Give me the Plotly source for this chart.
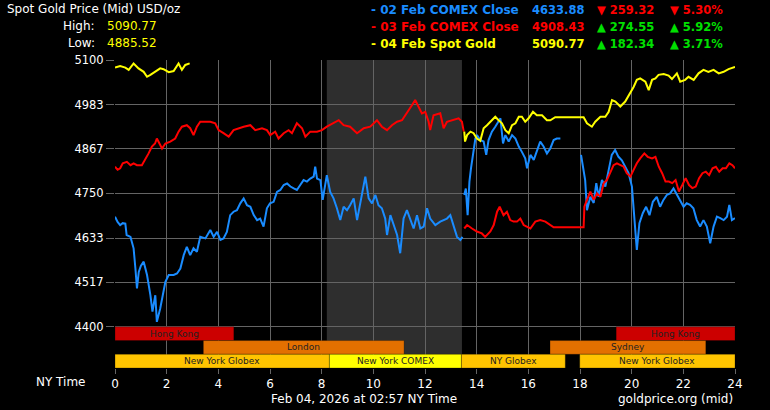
import plotly.graph_objects as go

# ---------------- data ----------------
blue_hours = [0.0,0.1,0.2,0.3,0.4,0.45,0.6,0.72,0.79,0.85,0.92,1.0,1.11,1.24,1.37,1.45,1.56,1.62,1.75,1.88,1.95,2.08,2.27,2.4,2.53,2.66,2.78,2.91,3.04,3.17,3.3,3.5,3.69,3.82,3.95,4.08,4.2,4.33,4.46,4.59,4.72,4.85,4.98,5.11,5.24,5.37,5.5,5.62,5.75,5.88,6.0,6.14,6.27,6.4,6.53,6.66,6.79,6.92,7.04,7.17,7.3,7.43,7.56,7.69,7.75,7.82,7.95,8.04,8.14,8.2,8.33,8.46,8.59,8.72,8.85,8.98,9.1,9.24,9.37,9.5,9.63,9.69,9.82,9.95,10.08,10.2,10.33,10.46,10.53,10.66,10.79,10.92,11.04,11.17,11.3,11.43,11.56,11.69,11.82,11.95,12.08,12.2,12.4,12.59,12.85,12.98,13.11,13.24,13.37,13.45,13.5,
              13.52,13.58,13.65,13.72,13.78,13.88,13.95,14.01,14.14,14.27,14.37,14.46,14.59,14.72,14.85,14.92,15.02,15.11,15.24,15.37,15.5,15.63,15.75,15.88,15.95,16.08,16.21,16.34,16.46,16.59,16.72,16.85,16.98,17.1,17.24,17.6,
              18.04,18.12,18.2,18.27,18.4,18.53,18.63,18.72,18.85,18.98,19.1,19.23,19.36,19.49,19.62,19.75,19.88,20.01,20.1,20.2,20.3,20.43,20.56,20.69,20.82,20.97,21.1,21.23,21.36,21.49,21.62,21.75,21.88,22.01,22.13,22.26,22.39,22.52,22.65,22.78,22.91,23.04,23.17,23.3,23.43,23.56,23.69,23.78,23.88,24.0]
blue_prices = [4689,4675,4667,4672,4671,4641,4636,4606,4553,4501,4544,4560,4571,4536,4483,4440,4483,4413,4448,4501,4518,4536,4536,4540,4553,4588,4610,4588,4606,4597,4636,4632,4654,4636,4649,4628,4632,4649,4693,4702,4706,4724,4737,4719,4715,4693,4680,4684,4663,4711,4724,4728,4754,4759,4772,4776,4768,4763,4759,4772,4785,4781,4789,4794,4820,4789,4785,4733,4781,4798,4754,4737,4711,4680,4715,4706,4719,4737,4680,4728,4781,4794,4737,4724,4746,4719,4711,4684,4641,4693,4667,4641,4593,4684,4706,4680,4658,4693,4658,4663,4711,4684,4667,4676,4684,4693,4667,4636,4628,4636,None,
               4746,4763,4693,4781,4816,4859,4894,4903,4890,4886,4851,4890,4912,4925,4938,4947,4881,4903,4886,4903,4894,4873,4859,4842,4816,4851,4838,4864,4886,4873,4855,4868,4890,4894,4894,None,
               4851,4820,4785,4706,4741,4725,4777,4741,4785,4768,4811,4851,4864,4846,4837,4820,4803,4768,4689,4602,4672,4698,4715,4693,4728,4741,4715,4733,4746,4750,4763,4746,4733,4715,4724,4720,4711,4680,4663,4680,4663,4619,4663,4689,4685,4680,4689,4720,4680,4685]

red_hours = [0,0.1,0.2,0.3,0.46,0.6,0.72,0.85,1.04,1.17,1.3,1.43,1.55,1.62,1.72,1.82,1.95,2.14,2.33,2.46,2.59,2.78,2.91,3.04,3.17,3.3,3.5,3.69,3.88,4.01,4.2,4.4,4.59,4.79,4.98,5.24,5.43,5.69,5.88,6.01,6.2,6.33,6.53,6.72,6.85,7.04,7.24,7.37,7.56,7.82,8.01,8.2,8.46,8.66,8.85,9.1,9.37,9.63,9.88,10.14,10.33,10.53,10.72,10.92,11.11,11.3,11.5,11.62,11.75,11.88,12.01,12.14,12.2,12.33,12.59,12.72,12.85,13.04,13.3,13.43,13.5,13.51,
             13.52,13.63,13.82,14.01,14.2,14.33,14.53,14.66,14.79,14.89,15.04,15.17,15.3,15.43,15.56,15.69,15.82,15.95,16.08,16.27,16.46,16.66,16.85,16.98,18.14,18.17,18.27,18.4,18.53,18.66,18.79,18.92,19.04,19.17,19.3,19.43,19.56,19.69,19.81,19.95,20.07,20.2,20.33,20.49,20.62,20.79,20.92,21.05,21.18,21.31,21.44,21.57,21.7,21.83,21.96,22.09,22.22,22.35,22.48,22.61,22.74,22.87,23.0,23.13,23.26,23.39,23.52,23.65,23.78,23.9,24.0]
red_prices = [4820,4812,4816,4829,4833,4824,4829,4824,4824,4838,4855,4873,4881,4894,4881,4868,4881,4886,4894,4912,4925,4929,4921,4903,4925,4938,4938,4938,4934,4916,4908,4899,4916,4921,4925,4929,4916,4921,4916,4903,4912,4894,4908,4916,4908,4934,4921,4899,4912,4912,4916,4925,4934,4942,4929,4925,4908,4921,4925,4942,4925,4916,4929,4938,4942,4960,4982,4995,4978,4960,4964,4938,4916,4955,4960,4921,4938,4942,4947,4938,4912,None,
              4658,4667,4658,4650,4645,4636,4650,4667,4702,4715,4693,4702,4680,4676,4676,4684,4667,4663,4658,4676,4680,4676,4667,4661,4661,4715,4733,4755,4733,4750,4741,4777,4785,4803,4824,4829,4824,4820,4803,4794,4811,4829,4842,4855,4846,4842,4846,4820,4803,4781,4781,4777,4785,4755,4772,4790,4772,4764,4768,4790,4803,4807,4798,4816,4820,4807,4816,4816,4829,4824,4816]

yellow_hours = [0,0.2,0.4,0.53,0.72,0.91,1.11,1.24,1.37,1.56,1.75,1.88,2.08,2.27,2.46,2.59,2.72,2.89,3.0,
                13.52,13.55,13.63,13.76,13.88,14.01,14.14,14.27,14.4,14.53,14.72,14.85,14.98,15.11,15.24,15.37,15.5,15.63,15.75,15.88,16.01,16.18,16.33,16.53,16.72,16.85,17.04,18.14,18.27,18.46,18.59,18.79,18.98,19.11,19.24,19.37,19.56,19.75,19.95,20.08,20.2,20.33,20.53,20.66,20.79,20.92,21.04,21.24,21.43,21.56,21.75,21.88,22.07,22.2,22.4,22.59,22.78,22.97,23.17,23.37,23.56,23.75,24.0]
yellow_prices = [5080,5084,5080,5074,5091,5078,5069,5056,5061,5069,5078,5076,5068,5071,5091,5074,5087,5091,None,
                 4912,4886,4903,4912,4908,4894,4888,4921,4929,4938,4951,4942,4934,4916,4908,4929,4934,4951,4951,4938,4947,4964,4955,4955,4942,4942,4950,4950,4934,4925,4938,4951,4951,4964,4995,4991,4978,4991,5013,5030,5048,5052,5043,5021,5048,5052,5061,5063,5059,5050,5065,5043,5048,5056,5048,5065,5074,5069,5074,5065,5069,5076,5082]

y_ticks = [4400, 4517, 4633, 4750, 4867, 4983, 5100]
x_ticks = list(range(0, 25, 2))

session_names = ["Hong Kong", "Hong Kong", "London", "Sydney", "New York Globex", "New York COMEX", "NY Globex", "New York Globex"]
session_start = [0.0, 19.4, 3.42, 16.84, 0.0, 8.3, 13.41, 17.99]
session_end   = [4.6, 24.0, 11.19, 22.87, 8.3, 13.41, 17.43, 24.0]
session_row   = [0, 0, 1, 1, 2, 2, 2, 2]
session_color = ["#cc0000", "#cc0000", "#e37000", "#e37000", "#ffc400", "#ffff00", "#ffc400", "#ffc400"]
shade_start, shade_end = 8.2, 13.43

legend_names = ["02 Feb COMEX Close", "03 Feb COMEX Close", "04 Feb Spot Gold"]
legend_values = ["4633.88", "4908.43", "5090.77"]
legend_change = ["▼ 259.32", "▲ 274.55", "▲ 182.34"]
legend_pct = ["▼ 5.30%", "▲ 5.92%", "▲ 3.71%"]
high_value, low_value = "5090.77", "4885.52"

# ---------------- styles ----------------
BLUE, RED, YEL, GREEN = "#1a8cff", "#ff0000", "#ffff00", "#00e000"
GRID = "#646464"
FONT = "DejaVu Sans"
Y_TOP, Y_BOT = 5100, 4292
ROW_TOP, ROW_H = 4400, 36
L, R, T, B, W, H = 115, 35, 60, 42, 770, 410
PW, PH = W - L - R, H - T - B

def px(x):
    return (x - L) / PW

def py(y):
    return (H - B - y) / PH

fig = go.Figure()
for hrs, vals, col in [(blue_hours, blue_prices, BLUE), (red_hours, red_prices, RED), (yellow_hours, yellow_prices, YEL)]:
    fig.add_trace(go.Scatter(x=hrs, y=vals, mode="lines", line=dict(color=col, width=2),
                             connectgaps=False, hoverinfo="skip", showlegend=False))

shapes = [dict(type="rect", xref="x", yref="y", x0=shade_start, x1=shade_end,
               y0=ROW_TOP - 2 * ROW_H, y1=Y_TOP, fillcolor="#2e2e2e", line_width=0, layer="below")]
annotations = []
for name, s, e, r, c in zip(session_names, session_start, session_end, session_row, session_color):
    y1 = ROW_TOP - r * ROW_H
    y0 = y1 - ROW_H
    shapes.append(dict(type="rect", xref="x", yref="y", x0=s, x1=e, y0=y0, y1=y1,
                       fillcolor=c, line=dict(color="rgba(0,0,0,0.25)", width=1), layer="above"))
    annotations.append(dict(x=(s + e) / 2, y=(y0 + y1) / 2, xref="x", yref="y", text=name,
                            showarrow=False, font=dict(family=FONT, size=9, color="#222222")))

def txt(x, y, text, color, size=12, xanchor="left", bold=False):
    annotations.append(dict(x=px(x), y=py(y), xref="paper", yref="paper", text=("<b>%s</b>" % text) if bold else text,
                            showarrow=False, xanchor=xanchor, yanchor="middle",
                            font=dict(family=FONT, size=size, color=color)))

txt(5, 9, "Spot Gold Price (Mid) USD/oz", "#ffffff", 12)
txt(97, 26, "High:", "#ffffff", 12, "right")
txt(105, 26, high_value, YEL, 12)
txt(97, 43, "Low:", "#ffffff", 12, "right")
txt(105, 43, low_value, YEL, 12)

name_cols = [BLUE, RED, YEL]
chg_cols = [RED, GREEN, GREEN]
for i in range(3):
    yy = 10 + 17 * i
    txt(369, yy, "- " + legend_names[i], name_cols[i], 12, bold=True)
    txt(586, yy, legend_values[i], name_cols[i], 11.5, "right", bold=True)
    txt(656, yy, legend_change[i], chg_cols[i], 11.5, "right", bold=True)
    txt(725, yy, legend_pct[i], chg_cols[i], 11.5, "right", bold=True)

txt(88, 382, "NY Time", "#ffffff", 12, "right")
txt(364, 399, "Feb 04, 2026 at 02:57 NY Time", "#ffffff", 12, "center")
txt(735, 399, "goldprice.org (mid)", "#ffffff", 12, "right")

fig.update_layout(
    width=W, height=H, margin=dict(l=L, r=R, t=T, b=B, pad=0),
    paper_bgcolor="#000000", plot_bgcolor="#000000",
    shapes=shapes, annotations=annotations, showlegend=False,
    xaxis=dict(range=[0, 24], tickvals=x_ticks, showgrid=True, gridcolor=GRID, gridwidth=1,
               zeroline=False, showline=False, ticks="outside", ticklen=5, tickcolor=GRID,
               tickfont=dict(family=FONT, size=12, color="#ffffff"), fixedrange=True),
    yaxis=dict(range=[Y_BOT, Y_TOP], tickvals=y_ticks, showgrid=True, gridcolor=GRID, gridwidth=1,
               zeroline=False, showline=False, ticks="outside", ticklen=8, tickcolor=GRID,
               tickfont=dict(family=FONT, size=11.5, color="#ffffff"), fixedrange=True),
)

fig.write_html("out.html", config={"displayModeBar": False},
               post_script="document.body.style.margin='0';document.body.style.overflow='hidden';")
